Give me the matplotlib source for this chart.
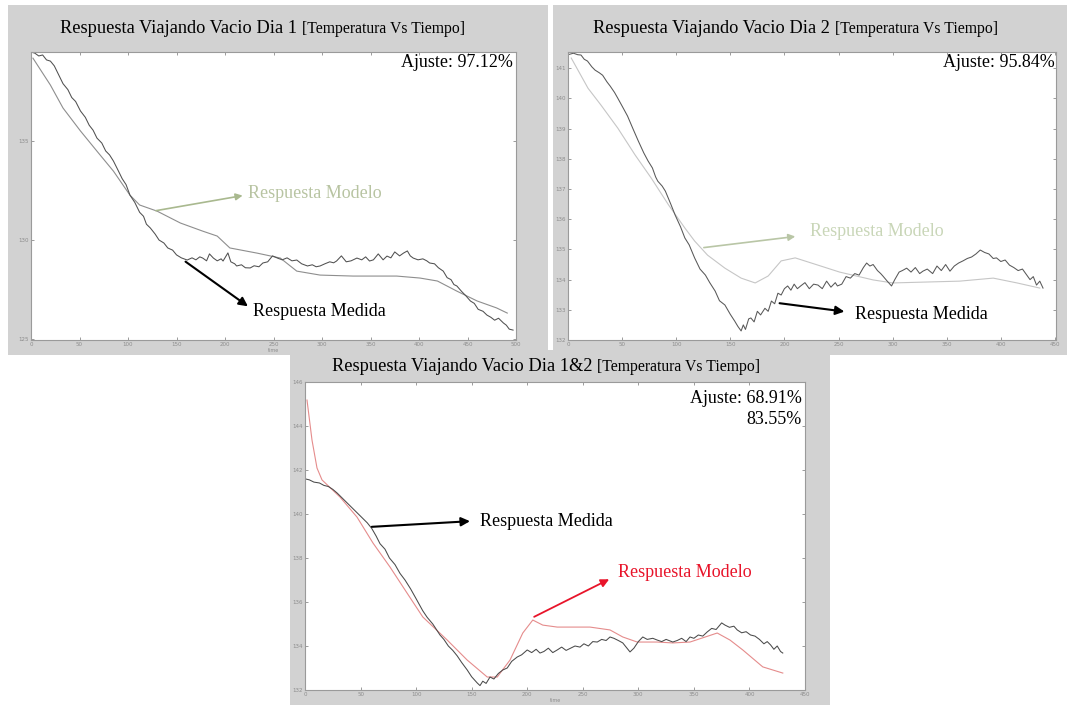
import matplotlib
matplotlib.use("Agg")
import matplotlib.pyplot as plt
from matplotlib.patches import Rectangle

# Dia 1
t1_med = [0, 4, 8, 12, 16, 20, 24, 28, 33, 38, 42, 46, 51, 56, 60, 64, 68, 73, 77, 81,
          85, 90, 94, 98, 102, 107, 112, 116, 119, 123, 128, 132, 137, 141, 146, 150, 155,
          161, 166, 170, 174, 177, 181, 184, 188, 192, 196, 198, 203, 206, 210, 212, 217,
          221, 226, 230, 235, 239, 244, 249, 254, 259, 264, 269, 274, 279, 285, 290, 294,
          298, 303, 308, 312, 315, 320, 325, 330, 336, 341, 345, 349, 353, 358, 363, 367,
          371, 375, 380, 384, 388, 391, 394, 399, 404, 408, 411, 416, 420, 425, 429, 433,
          436, 439, 444, 448, 453, 457, 461, 466, 470, 474, 478, 482, 487, 490, 493, 497]
T1_med = [139.5, 139.44, 139.3, 139.35, 139.1, 139.04, 138.8, 138.4, 137.9, 137.6, 137.2,
          137.0, 136.52, 136.2, 135.8, 135.55, 135.15, 134.9, 134.5, 134.3, 133.99, 133.5,
          133.1, 132.8, 132.27, 131.9, 131.4, 131.2, 130.8, 130.61, 130.3, 130.0, 129.85,
          129.6, 129.49, 129.25, 129.1, 128.99, 129.1, 129.0, 129.15, 129.09, 128.95, 129.3,
          129.09, 128.95, 129.05, 128.94, 129.35, 128.9, 128.8, 128.69, 128.75, 128.6,
          128.59, 128.7, 128.65, 128.84, 128.9, 129.2, 129.09, 129.0, 129.1, 128.95, 128.99,
          128.8, 128.69, 128.75, 128.65, 128.69, 128.8, 128.9, 128.85, 128.94, 129.2, 128.9,
          128.95, 129.09, 129.0, 129.15, 128.94, 129.0, 129.3, 129.0, 129.19, 129.1, 129.4,
          129.2, 129.34, 129.45, 129.2, 129.09, 129.0, 129.05, 128.95, 128.84, 128.8, 128.6,
          128.43, 128.1, 128.0, 127.75, 127.68, 127.4, 127.2, 126.92, 126.8, 126.5, 126.4,
          126.21, 126.1, 125.95, 126.05, 125.81, 125.7, 125.5, 125.45]
t1_mod = [2, 20, 33, 51, 68, 85, 102, 112, 130, 154, 177, 192, 205, 233, 257, 274, 298,
          332, 377, 401, 419, 439, 460, 480, 491]
T1_mod = [139.19, 137.83, 136.67, 135.51, 134.49, 133.48, 132.27, 131.77, 131.46, 130.86,
          130.45, 130.2, 129.6, 129.34, 129.09, 128.43, 128.23, 128.18, 128.18, 128.08,
          127.93, 127.42, 126.92, 126.57, 126.31]

# Dia 2
t2_med = [0, 5, 9, 12, 15, 18, 22, 25, 29, 32, 36, 39, 43, 46, 50, 55, 60, 65, 70, 74, 78,
          81, 83, 87, 90, 95, 99, 104, 108, 112, 117, 122, 127, 131, 136, 140, 145, 150, 154,
          157, 160, 162, 164, 167, 169, 172, 175, 178, 182, 185, 188, 191, 194, 197, 200,
          203, 206, 209, 212, 215, 219, 223, 227, 231, 235, 239, 243, 247, 249, 253, 257,
          261, 265, 269, 273, 276, 279, 282, 286, 289, 291, 295, 299, 302, 306, 309, 313,
          317, 321, 325, 328, 332, 337, 341, 345, 349, 353, 357, 361, 365, 369, 373, 377,
          381, 385, 389, 393, 396, 400, 404, 408, 412, 416, 420, 424, 427, 430, 433, 436, 439]
T2_med = [141.45, 141.5, 141.45, 141.44, 141.3, 141.24, 141.05, 140.94, 140.85, 140.77,
          140.55, 140.41, 140.2, 140.01, 139.75, 139.42, 139.0, 138.59, 138.2, 137.93, 137.7,
          137.4, 137.26, 137.1, 136.93, 136.5, 136.14, 135.75, 135.38, 135.15, 134.72, 134.35,
          134.15, 133.9, 133.62, 133.3, 133.16, 132.85, 132.63, 132.45, 132.3, 132.5, 132.35,
          132.7, 132.73, 132.6, 132.95, 132.83, 133.05, 132.95, 133.29, 133.2, 133.55, 133.49,
          133.7, 133.79, 133.65, 133.85, 133.7, 133.79, 133.9, 133.7, 133.85, 133.82, 133.7,
          133.95, 133.75, 133.9, 133.79, 133.85, 134.1, 134.05, 134.2, 134.15, 134.4, 134.55,
          134.45, 134.5, 134.3, 134.2, 134.12, 133.95, 133.79, 134.0, 134.25, 134.3, 134.38,
          134.25, 134.4, 134.2, 134.28, 134.35, 134.2, 134.45, 134.3, 134.5, 134.28, 134.45,
          134.55, 134.62, 134.7, 134.75, 134.85, 134.98, 134.9, 134.85, 134.7, 134.72, 134.6,
          134.65, 134.48, 134.4, 134.3, 134.35, 134.15, 134.0, 134.1, 133.82, 133.95, 133.72]
t2_mod = [3, 18.5, 30.5, 46, 62, 77, 93, 108, 117, 129, 145, 160, 173, 185, 197, 210, 231,
          251, 282, 300, 362, 393, 415, 436]
T2_mod = [141.34, 140.34, 139.78, 139.02, 138.13, 137.36, 136.47, 135.71, 135.28, 134.81,
          134.38, 134.05, 133.89, 134.12, 134.62, 134.72, 134.48, 134.25, 133.99, 133.89,
          133.95, 134.05, 133.89, 133.72]

# Dia 1 y 2
t3_med = [0, 4, 8, 13, 17, 21, 25, 29, 33, 38, 42, 47, 52, 56, 60, 64, 67.5, 72, 76, 81,
          85.5, 90, 95, 100, 106, 110, 115, 121.5, 125, 129, 133, 137, 141, 146, 150, 155,
          157.5, 160, 163, 166.5, 170, 174, 178, 182, 186, 191, 195, 200, 204, 208, 211.5,
          215, 219, 223, 227, 231, 235, 239, 243, 247.5, 251, 255, 259, 263, 267, 271, 274.5,
          278, 282, 286, 289, 292.5, 296, 300, 304, 308, 313, 317, 321, 325, 331, 335, 339,
          343, 346.5, 350, 354, 358, 362, 366, 370, 375, 378, 382, 386, 389, 393, 397, 401,
          405, 409, 413, 416, 419, 422, 425, 428, 430]
T3_med = [141.6, 141.55, 141.45, 141.41, 141.3, 141.25, 141.12, 140.95, 140.75, 140.5,
          140.3, 140.05, 139.8, 139.6, 139.35, 139.0, 138.65, 138.4, 138.0, 137.7, 137.3,
          137.0, 136.6, 136.15, 135.6, 135.3, 135.0, 134.5, 134.3, 134.0, 133.8, 133.55,
          133.25, 132.91, 132.6, 132.32, 132.2, 132.4, 132.3, 132.59, 132.5, 132.75, 132.91,
          133.0, 133.3, 133.5, 133.6, 133.82, 133.7, 133.85, 133.68, 133.75, 133.9, 133.7,
          133.82, 133.95, 133.8, 133.9, 134.0, 133.95, 134.1, 134.0, 134.2, 134.18, 134.3,
          134.25, 134.41, 134.35, 134.25, 134.14, 133.95, 133.73, 133.9, 134.2, 134.41, 134.3,
          134.35, 134.27, 134.2, 134.3, 134.18, 134.25, 134.35, 134.2, 134.41, 134.35, 134.5,
          134.45, 134.64, 134.8, 134.75, 135.05, 134.95, 134.85, 134.9, 134.73, 134.6, 134.65,
          134.5, 134.45, 134.3, 134.1, 134.2, 134.05, 133.85, 134.0, 133.75, 133.68]
t3_mod = [1.8, 6.3, 10.8, 15.3, 31.5, 46.8, 61.2, 76.5, 91.8, 106, 128, 146, 164, 173,
          184.5, 196, 205, 214, 227, 256.5, 274.5, 286, 299, 317, 331, 346.5, 371, 382.5,
          394, 412, 430]
T3_mod = [145.18, 143.36, 142.09, 141.55, 140.77, 139.86, 138.68, 137.59, 136.41, 135.32,
          134.27, 133.36, 132.59, 132.59, 133.36, 134.59, 135.18, 134.95, 134.86, 134.86,
          134.73, 134.41, 134.18, 134.18, 134.14, 134.18, 134.59, 134.27, 133.82, 133.05,
          132.77]

titulos = ["Respuesta Viajando Vacio Dia 1", "Respuesta Viajando Vacio Dia 2",
           "Respuesta Viajando Vacio Dia 1&2"]
subtitulo = "[Temperatura Vs Tiempo]"
ajustes = ["Ajuste: 97.12%", "Ajuste: 95.84%", "Ajuste: 68.91%", "83.55%"]

W, H = 1067, 705
fig = plt.figure(figsize=(W / 100, H / 100), dpi=100)
fig.patch.set_facecolor("white")
SERIF = "Liberation Serif"
GRIS = "#d2d2d2"


def caja(l, t, r, b):
    # rectangulo en pixeles (izq, arriba, der, abajo) -> coordenadas de figura
    return [l / W, 1 - b / H, (r - l) / W, (b - t) / H]


def fondo(l, t, r, b):
    x, y, w, h = caja(l, t, r, b)
    fig.add_artist(Rectangle((x, y), w, h, transform=fig.transFigure,
                             facecolor=GRIS, edgecolor="none", zorder=-5))


def preparar(ax, xmax, xticks, ylim, yticks):
    ax.set_xlim(0, xmax)
    ax.set_ylim(*ylim)
    ax.set_xticks(xticks)
    ax.set_yticks(yticks)
    ax.tick_params(direction="in", length=2.5, width=0.6, colors="#8c8c8c",
                   labelsize=4, top=True, right=True, pad=1.5)
    for s in ax.spines.values():
        s.set_color("#9a9a9a")
        s.set_linewidth(0.8)


fondo(8, 5, 548, 355)
fondo(553, 5, 1067, 355)
fondo(290, 350, 830, 705)

# ---- Dia 1 ----
ax1 = fig.add_axes(caja(31, 52, 516, 340))
preparar(ax1, 500, range(0, 501, 50), (124.95, 139.5), [125, 130, 135])
ax1.plot(t1_mod, T1_mod, color="#8e8e8e", lw=0.8)
ax1.plot(t1_med, T1_med, color="#505050", lw=0.75)
ax1.set_xlabel("time", fontsize=3.5, color="#8c8c8c", labelpad=0.5)
ax1.text(0.994, 0.962, ajustes[0], transform=ax1.transAxes, family=SERIF,
         fontsize=13, ha="right", va="center")
ax1.annotate("", xy=(221, 132.27), xytext=(126, 131.46),
             arrowprops=dict(arrowstyle="-|>", color="#a9b98f", lw=1.2, mutation_scale=10))
ax1.text(224, 132.37, "Respuesta Modelo", family=SERIF, fontsize=13,
         color="#b8c4a2", ha="left", va="center")
ax1.annotate("", xy=(226, 126.57), xytext=(157, 128.99),
             arrowprops=dict(arrowstyle="-|>", color="black", lw=1.5, mutation_scale=13))
ax1.text(229, 126.41, "Respuesta Medida", family=SERIF, fontsize=13,
         ha="left", va="center")

# ---- Dia 2 ----
ax2 = fig.add_axes(caja(568, 52, 1056, 340))
preparar(ax2, 451, range(0, 451, 50), (132, 141.54), range(132, 142))
ax2.plot(t2_mod, T2_mod, color="#c6c6c6", lw=0.8)
ax2.plot(t2_med, T2_med, color="#585858", lw=0.75)
ax2.text(0.998, 0.962, ajustes[1], transform=ax2.transAxes, family=SERIF,
         fontsize=13, ha="right", va="center")
ax2.annotate("", xy=(212.6, 135.44), xytext=(123, 135.05),
             arrowprops=dict(arrowstyle="-|>", color="#b9c6a6", lw=1.2, mutation_scale=10))
ax2.text(224, 135.58, "Respuesta Modelo", family=SERIF, fontsize=13,
         color="#c9d6b8", ha="left", va="center")
ax2.annotate("", xy=(258, 132.93), xytext=(193, 133.23),
             arrowprops=dict(arrowstyle="-|>", color="black", lw=1.5, mutation_scale=13))
ax2.text(265, 132.83, "Respuesta Medida", family=SERIF, fontsize=13,
         ha="left", va="center")

# ---- Dia 1 y 2 ----
ax3 = fig.add_axes(caja(305, 382, 805, 690))
preparar(ax3, 450, range(0, 451, 50), (132, 146), range(132, 147, 2))
ax3.plot(t3_mod, T3_mod, color="#e58c8c", lw=0.8)
ax3.plot(t3_med, T3_med, color="#4a4a4a", lw=0.75)
ax3.set_xlabel("time", fontsize=3.5, color="#8c8c8c", labelpad=0.5)
ax3.text(0.994, 0.948, ajustes[2], transform=ax3.transAxes, family=SERIF,
         fontsize=13, ha="right", va="center")
ax3.text(0.994, 0.877, ajustes[3], transform=ax3.transAxes, family=SERIF,
         fontsize=13, ha="right", va="center")
ax3.annotate("", xy=(151, 139.68), xytext=(57.6, 139.41),
             arrowprops=dict(arrowstyle="-|>", color="black", lw=1.5, mutation_scale=13))
ax3.text(157.5, 139.64, "Respuesta Medida", family=SERIF, fontsize=13,
         ha="left", va="center")
ax3.annotate("", xy=(276, 137.09), xytext=(204, 135.27),
             arrowprops=dict(arrowstyle="-|>", color="#e8142a", lw=1.3, mutation_scale=12))
ax3.text(282, 137.36, "Respuesta Modelo", family=SERIF, fontsize=13,
         color="#e8142a", ha="left", va="center")

# titulos de cada panel: parte principal y subtitulo mas pequeno
for (x, y), texto in zip([(60, 33), (593, 33), (332, 371)], titulos):
    t = fig.text(x / W, 1 - y / H, texto, family=SERIF, fontsize=13.2,
                 ha="left", va="baseline")
    ax1.annotate(subtitulo, xy=(1, 0), xycoords=t, xytext=(3.5, 0),
                 textcoords="offset points", family=SERIF, fontsize=11.3,
                 ha="left", va="bottom", annotation_clip=False)

fig.savefig("out.png", dpi=100)
